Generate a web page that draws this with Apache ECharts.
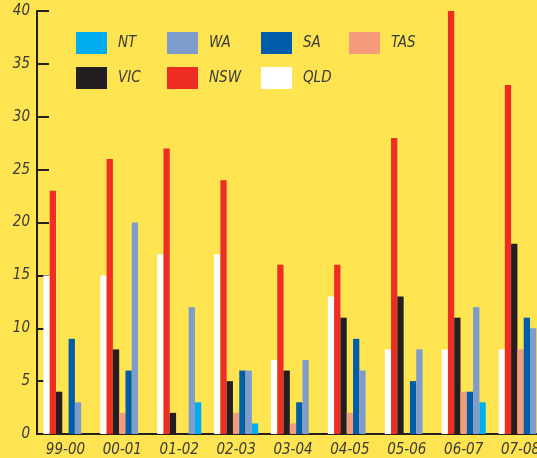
<!DOCTYPE html>
<html><head><meta charset="utf-8">
<script src="https://cdn.jsdelivr.net/npm/echarts@6/dist/echarts.min.js"></script>
<style>html,body{margin:0;padding:0;background:#FEE451}#c{width:537px;height:458px}</style>
</head><body><div id="c"></div>
<script>
const categories = ['99-00','00-01','01-02','02-03','03-04','04-05','05-06','06-07','07-08'];
const QLD = [15,15,17,17,7,13,8,8,8];
const NSW = [23,26,27,24,16,16,28,40,33];
const VIC = [4,8,2,5,6,11,13,11,18];
const TAS = [0,2,0,2,1,2,0,4,8];
const SA  = [9,6,0,6,3,9,5,4,11];
const WA  = [3,20,12,6,7,6,8,12,10];
const NT  = [0,0,3,1,0,0,0,3,0];
const yTicks = [0,5,10,15,20,25,30,35,40];
const legendRow1 = ['NT','WA','SA','TAS'];
const legendRow2 = ['VIC','NSW','QLD'];

const colors = {NT:'#00AEEF', WA:'#809CCD', SA:'#005DAA', TAS:'#F59B7D', VIC:'#231F20', NSW:'#EE2E24', QLD:'#FFFFFF'};
const seriesData = [['QLD',QLD],['NSW',NSW],['VIC',VIC],['TAS',TAS],['SA',SA],['WA',WA],['NT',NT]];
const font = '"DejaVu Sans Condensed","Liberation Sans",sans-serif';
const txt = {fontFamily:font, fontStyle:'italic', fontSize:15, color:'#3a3a3a'};
const legendText = Object.assign({}, txt, {padding:[0,0,0,6]});
const legendX = [76,167,261,349];

const legends = [];
legendRow1.forEach((n,i)=>legends.push({data:[n], left:legendX[i], top:32}));
legendRow2.forEach((n,i)=>legends.push({data:[n], left:legendX[i], top:67}));
legends.forEach(l=>Object.assign(l,{padding:0, itemWidth:31, itemHeight:22, icon:'rect', textStyle:legendText, selectedMode:false}));

const chart = echarts.init(document.getElementById('c'));
chart.setOption({
  backgroundColor:'#FEE451',
  animation:false,
  grid:{left:37, top:11, width:512, bottom:24, containLabel:false, outerBoundsMode:'none'},
  legend:legends,
  xAxis:{type:'category', data:categories,
    axisLine:{lineStyle:{color:'#231F20', width:2}},
    axisTick:{inside:true, length:10, lineStyle:{color:'#231F20', width:2}},
    axisLabel:Object.assign({margin:9, interval:0}, txt)},
  yAxis:{type:'value', min:0, max:40, interval:5,
    axisLine:{show:true, lineStyle:{color:'#231F20', width:2}},
    axisTick:{show:true, inside:true, length:12, lineStyle:{color:'#231F20', width:2}},
    splitLine:{show:false},
    axisLabel:Object.assign({margin:7, formatter:v=>yTicks.includes(v)?String(v):''}, txt)},
  series: seriesData.map(([name,data])=>({
    name, type:'bar', data, barWidth:6.3, barGap:'0%',
    itemStyle:{color:colors[name]}
  }))
});
</script></body></html>
